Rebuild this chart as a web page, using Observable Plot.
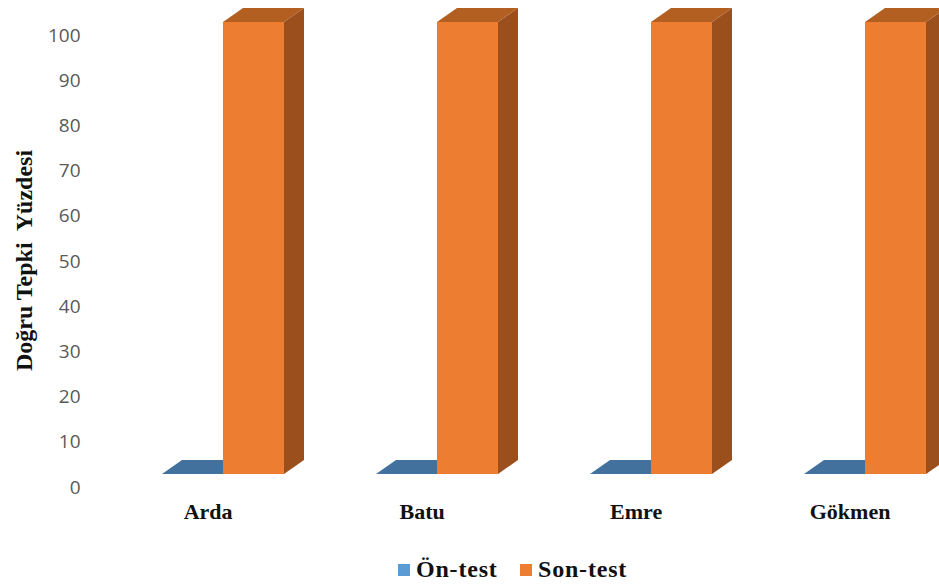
<!DOCTYPE html>
<html>
<head>
<meta charset="utf-8">
<script src="https://cdn.jsdelivr.net/npm/d3@7"></script>
<script src="https://cdn.jsdelivr.net/npm/@observablehq/plot@0.6"></script>
<style>
  body { margin: 0; background: #fff; }
  #legend { height: 43px; position: relative; font-family: "Liberation Serif", "Times New Roman", serif; font-weight: bold; font-size: 24px; letter-spacing: 0.8px; color: #111; }
  .item { position: absolute; top: 11px; display: flex; align-items: center; }
  .sw { width: 12px; height: 12px; margin-right: 6px; }
</style>
</head>
<body>
<div id="chart"></div>
<div id="legend"></div>
<script>
const categories = ["Arda", "Batu", "Emre", "Gökmen"];
const seriesNames = ["Ön-test", "Son-test"];
const onTest = [0, 0, 0, 0];
const sonTest = [100, 100, 100, 100];
const yTicks = [0, 10, 20, 30, 40, 50, 60, 70, 80, 90, 100];
const yLabel = "Doğru Tepki\u00A0 Yüzdesi";

const palette = {
  "Ön-test": {front: "#5B9BD5", top: "#41719C", side: "#2E5A82", legend: "#5B9BD5"},
  "Son-test": {front: "#ED7D31", top: "#B45F22", side: "#9A4F1D", legend: "#ED7D31"}
};

// layout constants (3D look)
const W = 0.285;   // bar width in category units
const DX = 0.0935; // depth offset in category units
const DY = 3.1;    // depth offset in value units

const values = [onTest, sonTest];
const bars = [];
categories.forEach((c, i) => {
  seriesNames.forEach((s, k) => {
    const xl = k === 0 ? i - W : i;
    bars.push({id: c + s, cat: c, series: s, xl, xr: xl + W, v: values[k][i]});
  });
});
const tops = bars.flatMap(b => [
  {id: b.id, series: b.series, y: b.v, x1: b.xl, x2: b.xr},
  {id: b.id, series: b.series, y: b.v + DY, x1: b.xl + DX, x2: b.xr + DX}
]);
const sides = bars.filter(b => b.v > 0).flatMap(b => [
  {id: b.id, series: b.series, x: b.xr, y1: 0, y2: b.v},
  {id: b.id, series: b.series, x: b.xr + DX, y1: DY, y2: b.v + DY}
]);

const chart = Plot.plot({
  width: 939,
  height: 545,
  marginLeft: 90,
  marginTop: 22,
  marginBottom: 71,
  marginRight: 10,
  x: {type: "linear", domain: [0, 3], range: [223, 865], axis: null},
  y: {domain: [0, 100], range: [474, 22], axis: null},
  style: {background: "#fff"},
  marks: [
    Plot.axisY(yTicks, {
      tickSize: 0, tickPadding: 0, dx: -10, dy: 13, label: null,
      fontSize: 19, fill: "#595959",
      fontFamily: "'Open Sans', 'Liberation Sans', sans-serif"
    }),
    Plot.areaY(sides, {x: "x", y1: "y1", y2: "y2", z: "id", fill: d => palette[d.series].side}),
    Plot.areaX(tops, {y: "y", x1: "x1", x2: "x2", z: "id", fill: d => palette[d.series].top}),
    Plot.rect(bars.filter(b => b.v > 0), {x1: "xl", x2: "xr", y1: 0, y2: "v", fill: d => palette[d.series].front}),
    Plot.text(categories, {
      x: (d, i) => i - 0.072, frameAnchor: "bottom", dy: 44,
      text: d => d, fontSize: 22, fontWeight: "bold", fill: "#111",
      fontFamily: "'Liberation Serif', 'Times New Roman', serif"
    }),
    Plot.text([yLabel], {
      frameAnchor: "left", textAnchor: "middle", dx: -66, dy: 12, rotate: -90,
      text: d => d, fontSize: 24, fontWeight: "bold", fill: "#111",
      fontFamily: "'Liberation Serif', 'Times New Roman', serif"
    })
  ]
});
document.getElementById("chart").appendChild(chart);

const legend = document.getElementById("legend");
const lefts = [398, 520];
seriesNames.forEach((s, k) => {
  const item = document.createElement("div");
  item.className = "item";
  item.style.left = lefts[k] + "px";
  const sw = document.createElement("span");
  sw.className = "sw";
  sw.style.background = palette[s].legend;
  const t = document.createElement("span");
  t.textContent = s;
  item.appendChild(sw);
  item.appendChild(t);
  legend.appendChild(item);
});
</script>
</body>
</html>
